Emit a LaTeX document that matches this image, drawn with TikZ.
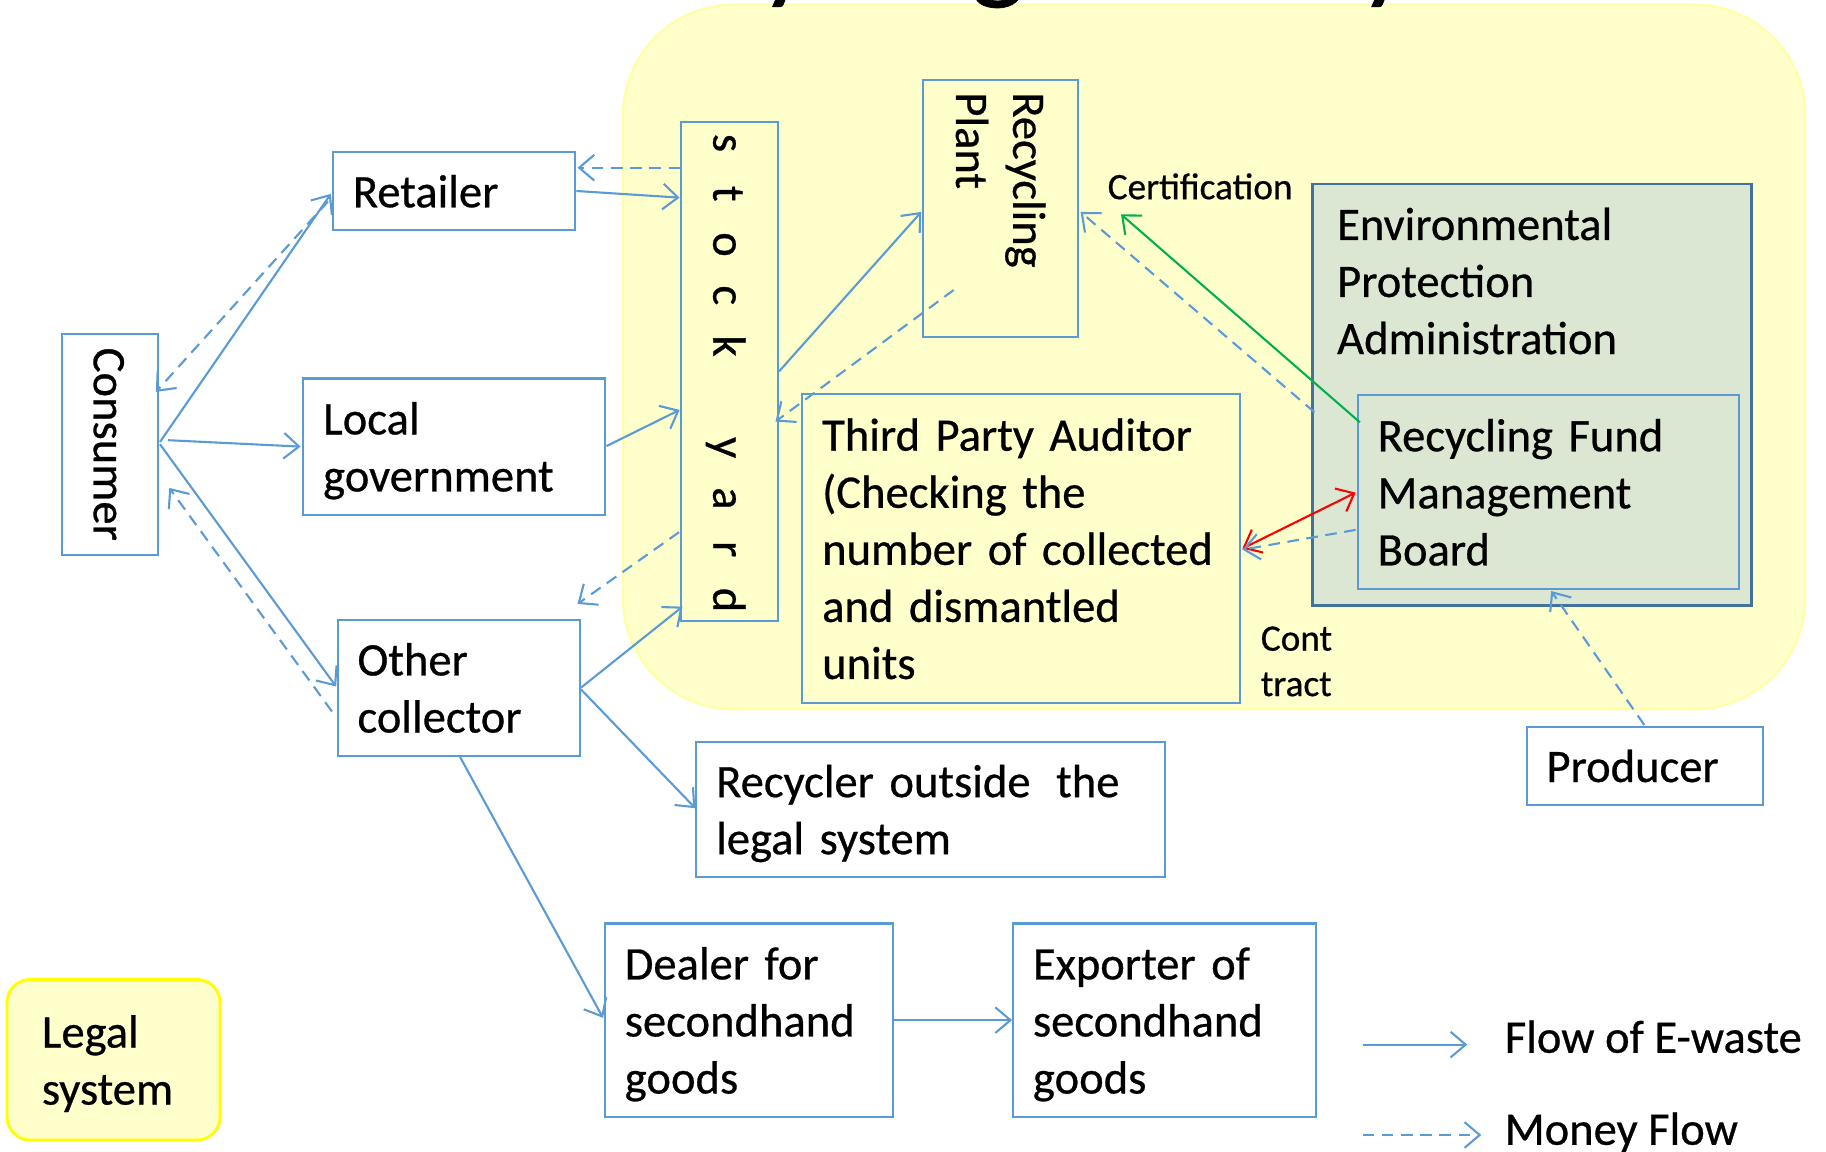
\documentclass[tikz,border=0pt]{standalone}
\usepackage{fontspec}
\setmainfont{Carlito}[FakeBold=0.6]
\usetikzlibrary{arrows.meta,calc}
\definecolor{flowblue}{HTML}{5B9BD5}
\definecolor{epaedge}{HTML}{41719C}
\definecolor{epagreen}{HTML}{DCE7D3}
\definecolor{legalfill}{HTML}{FFFFCC}
\definecolor{legaledge}{HTML}{FFFF00}
\definecolor{certgreen}{HTML}{00B050}
\definecolor{zonefill}{HTML}{FFFFCC}
\definecolor{zoneedge}{HTML}{FFFFA8}
\newcommand{\yardletter}[1]{\makebox[43.6pt]{#1}}
\begin{document}
\begin{tikzpicture}[x=1pt,y=-1pt,
  bigtext/.style={font=\fontsize{40}{49}\selectfont},
  smalltext/.style={font=\fontsize{32}{39}\selectfont},
  ebox/.style={bigtext, draw=flowblue, line width=1.8pt, fill=white,
    inner xsep=17pt, inner ysep=0pt, align=left, text height=30pt, text depth=2pt},
  twolines/.style={text depth=51pt},
  threelines/.style={text depth=100pt},
  fivelines/.style={text depth=198pt},
  flow/.style={draw=flowblue, line width=1.8pt, -{Straight Barb[length=13pt,width=22pt]}},
  money/.style={flow, dash pattern=on 10pt off 6.5pt},
  vtext/.style={bigtext, rotate=-90, inner sep=0pt, text height=30pt, text depth=2pt},
]
\useasboundingbox (0,0) rectangle (1568,989);
\clip (0,0) rectangle (1568,989);
\fill[white] (0,0) rectangle (1568,989);

% legal-system zone
\draw[fill=zonefill, draw=zoneedge, line width=2pt, rounded corners=95pt]
  (535,4) rectangle (1550,609);

% slide title, mostly above the frame
\node[font=\fontsize{98}{110}\selectfont, anchor=base west, inner sep=0pt] (title)
  at (511,-10) {Recycling Fund System};

% actors
\node[ebox, minimum width=83pt, minimum height=190pt] (cons) at (94.5,381.5) {};
\node[vtext] (cons-label) at (cons.center) {Consumer};

\node[ebox, minimum width=208pt, minimum height=67pt, text width=174pt] (ret) at (390,164) {Retailer};
\node[ebox, twolines, minimum width=259pt, minimum height=117pt, text width=225pt] (loc) at (390,383.5) {Local\\government};
\node[ebox, twolines, minimum width=208pt, minimum height=117pt, text width=174pt] (oth) at (394,590.5) {Other\\collector};

\node[ebox, fill=zonefill, minimum width=83pt, minimum height=428pt] (stk) at (626.5,319) {};
\node[vtext] (stk-label) at (stk.center)
  {\yardletter{s}\yardletter{t}\yardletter{o}\yardletter{c}\yardletter{k}\yardletter{}\yardletter{y}\yardletter{a}\yardletter{r}\yardletter{d}};

\node[ebox, fill=zonefill, minimum width=133pt, minimum height=220pt] (plant) at (859,179) {};
\node[bigtext, rotate=-90, anchor=base west, inner sep=0pt, text width=160pt, align=left]
  (plant-label) at ($(plant.north)+(11,11)$) {Recycling\\Plant};

\node[ebox, fivelines, fill=zonefill, minimum width=376pt, minimum height=266pt, text width=342pt]
  (aud) at (877,471) {Third Party Auditor\\(Checking the\\number of collected\\and dismantled\\units};

\node[draw=epaedge, line width=2.5pt, fill=epagreen, minimum width=377pt, minimum height=362pt, inner sep=0pt]
  (epa) at (1315.5,339) {};
\node[bigtext, anchor=base west, inner sep=0pt, text width=340pt, align=left]
  (epa-label) at (1148,206) {Environmental\\Protection\\Administration};
\node[ebox, threelines, fill=epagreen, minimum width=327pt, minimum height=167pt, text width=293pt]
  (rfmb) at (1329.5,422.5) {Recycling Fund\\Management\\Board};

\node[ebox, minimum width=203pt, minimum height=67pt, text width=169pt] (prod) at (1412.5,657.5) {Producer};
\node[ebox, twolines, minimum width=402pt, minimum height=116pt, text width=368pt]
  (recy) at (799,695) {Recycler outside\hspace{22pt}the\\legal system};
\node[ebox, threelines, minimum width=247pt, minimum height=166pt, text width=213pt]
  (deal) at (643,876) {Dealer for\\secondhand\\goods};
\node[ebox, threelines, minimum width=260pt, minimum height=166pt, text width=226pt]
  (expo) at (1000,876) {Exporter of\\secondhand\\goods};

\node[ebox, twolines, draw=legaledge, line width=2.5pt, fill=legalfill, rounded corners=20pt,
  inner xsep=30pt, minimum width=183pt, minimum height=138pt, text width=123pt]
  (legal) at (97.5,910) {Legal\\system};

% labels
\node[smalltext, anchor=base west, inner sep=0pt] (cert) at (951,171) {Certification};
\node[smalltext, anchor=base west, inner sep=0pt, text width=60pt, align=left]
  (contract) at (1082.5,558.7) {Cont\\tract};

% flows of e-waste and money
\draw[flow] ($(cons.east)+(0.5,-2)$) -- ($(ret.west)+(-1,2.5)$);
\draw[money] ($(ret.west)+(-3.5,9)$) -- ($(cons.east)+(-3,-45)$);
\draw[flow] ($(cons.east)+(7.5,-3.5)$) -- ($(loc.west)+(-1.5,0)$);
\draw[flow] ($(cons.east)+(0.5,0)$) -- ($(oth.west)+(-0.5,-1)$);
\draw[money] ($(oth.west)+(-4,20.5)$) -- ($(cons.east)+(8.5,37.5)$);
\draw[flow] (ret.east) -- ($(stk.west)+(-0.5,-149.3)$);
\draw[money] ($(stk.west)+(0,-175)$) -- ($(ret.east)+(1,-20)$);
\draw[flow] ($(loc.east)+(0.5,-0.5)$) -- ($(stk.west)+(-0.5,33)$);
\draw[money] ($(stk.west)+(-1,138)$) -- ($(oth.north east)+(-3,-12.5)$);
\draw[flow] (oth.east) -- ($(stk.south west)+(2,-13)$);
\draw[flow] ($(oth.east)+(0,1.5)$) -- ($(recy.west)+(0,-1)$);
\draw[flow] ($(oth.south)+(1,0)$) -- ($(deal.west)+(-0.8,-2)$);
\draw[flow] (deal.east) -- (expo.west);
\draw[flow] (stk.east) -- ($(plant.west)+(-0.5,3)$);
\draw[money] ($(plant.center)+(-40,70)$) -- ($(stk.east)+(-3,43)$);
\draw[money] ($(epa.west)+(3,15)$) -- ($(plant.east)+(1.5,3)$);
\draw[draw=certgreen, line width=1.8pt, -{Straight Barb[length=13pt,width=22pt]}]
  ($(rfmb.north west)+(2.6,24.5)$) -- ($(cert.base west)+(11.6,13)$);
\draw[draw=red, line width=1.8pt, {Straight Barb[length=13pt,width=22pt]}-{Straight Barb[length=13pt,width=22pt]}]
  ($(aud.east)+(1,0)$) -- ($(rfmb.west)+(-1,0.5)$);
\draw[money] ($(rfmb.west)+(-1,32.5)$) -- ($(aud.east)+(1,1)$);
\draw[money] ($(prod.north)+(-0.5,-0.5)$) -- ($(rfmb.south)+(2.5,0.6)$);

% legend
\node[bigtext, anchor=base west, inner sep=0pt] (leg-waste) at (1292,904) {Flow of E-waste};
\node[bigtext, anchor=base west, inner sep=0pt] (leg-money) at (1292,983) {Money Flow};
\coordinate (leg-waste-start) at (1170,897);
\coordinate (leg-money-start) at (1170,974.6);
\draw[flow] (leg-waste-start) -- ($(leg-waste.base west)+(-32,-7)$);
\draw[money] (leg-money-start) -- ($(leg-money.base west)+(-20,-8.4)$);
\end{tikzpicture}
\end{document}
